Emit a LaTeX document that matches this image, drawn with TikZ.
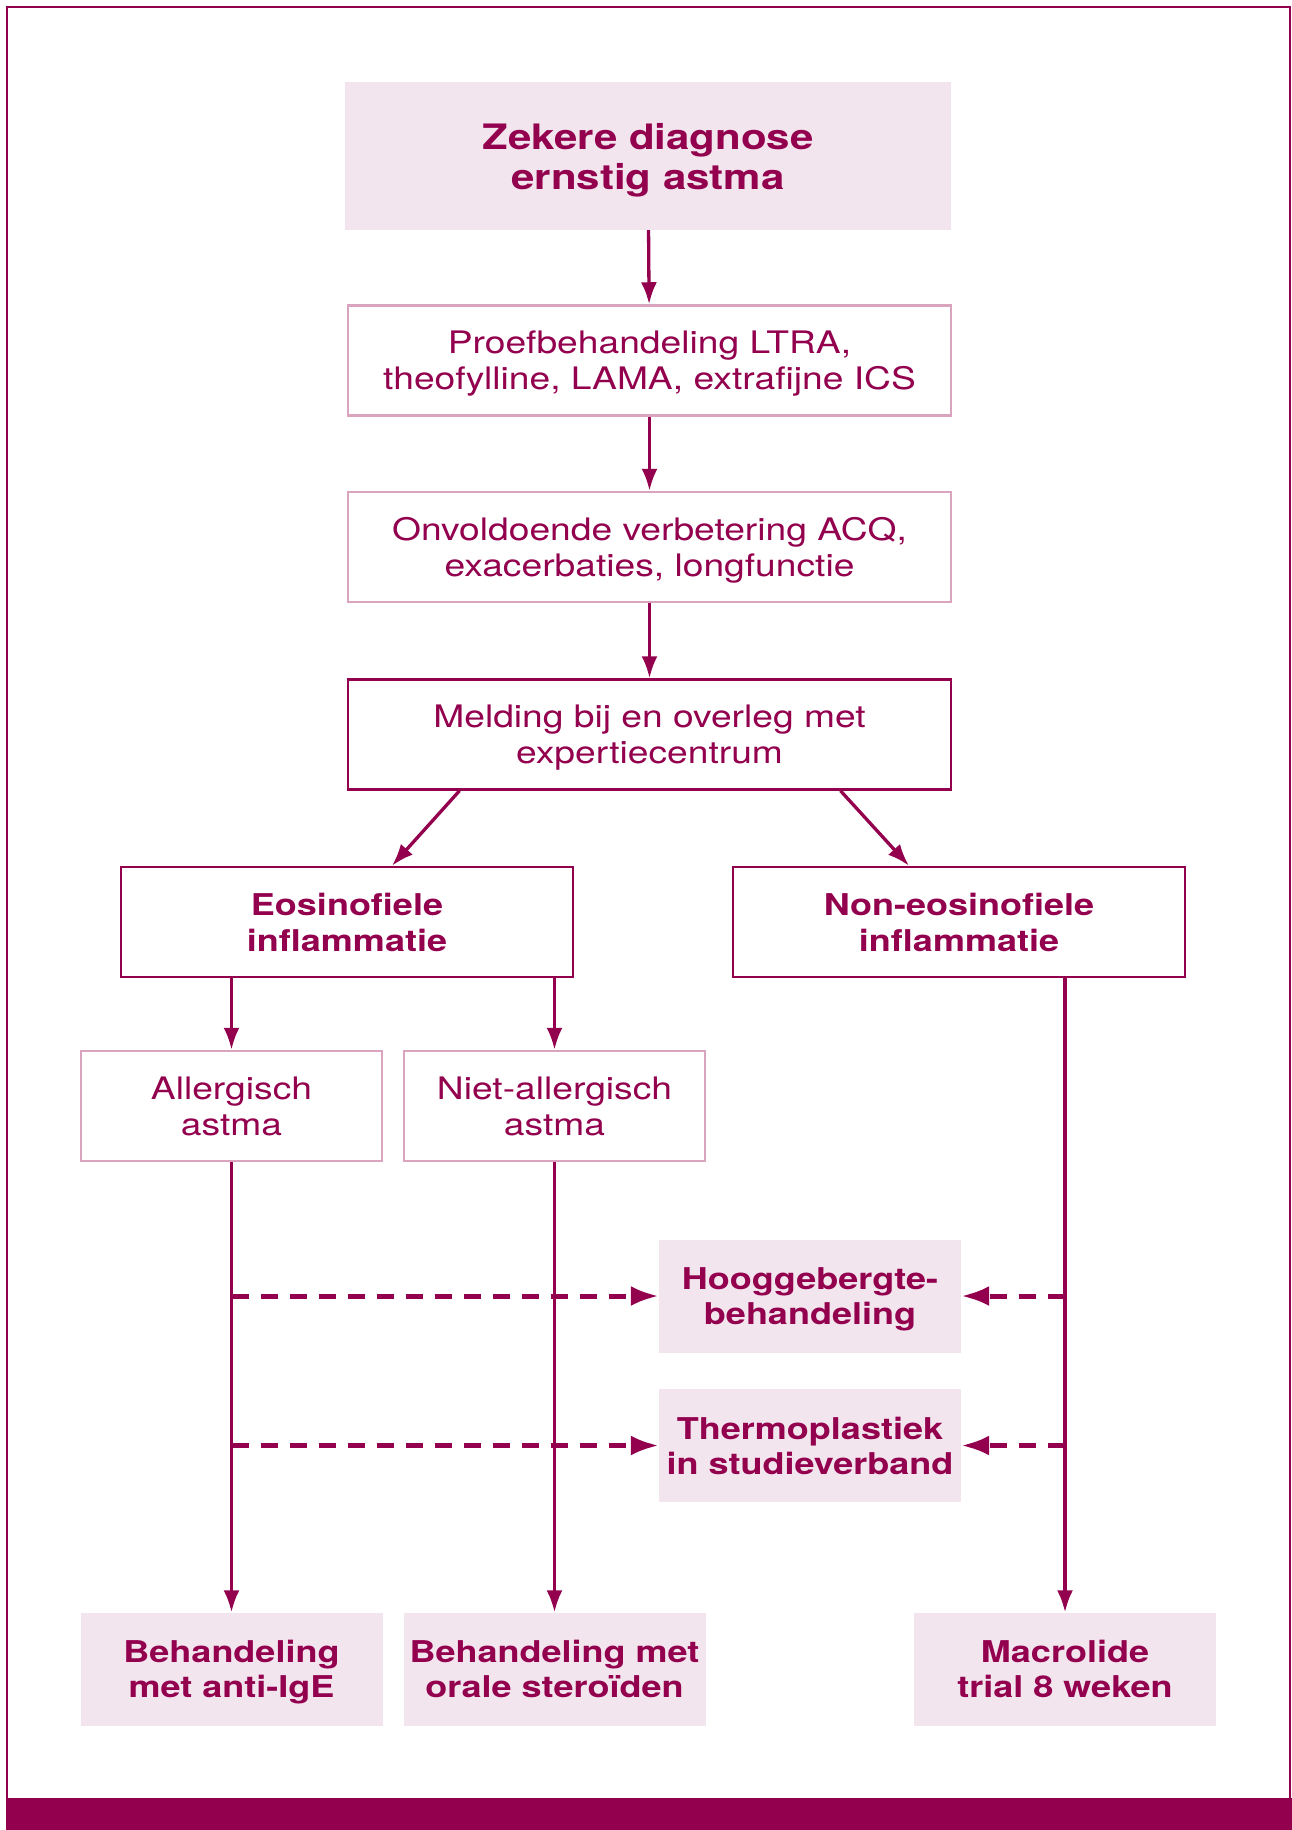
\documentclass[tikz,border=0pt]{standalone}
\usepackage{fontspec}
\setmainfont{TeX Gyre Heros}[FakeStretch=1.2]
\usetikzlibrary{arrows.meta,positioning}

\definecolor{astred}{RGB}{146,0,78}
\definecolor{astpink}{RGB}{242,229,238}
\definecolor{astline}{RGB}{218,163,190}

\tikzset{
  box/.style={rectangle, align=center, text=astred, inner sep=0pt, text depth=0pt,
    font=\fontsize{31}{36}\selectfont},
  darkbox/.style={box, draw=astred, line width=2.5pt, minimum height=110pt},
  lightbox/.style={box, draw=astline, line width=2.5pt, minimum height=110pt},
  pinkbox/.style={box, fill=astpink, minimum height=113pt,
    font=\fontsize{30}{35}\selectfont\bfseries},
  flow/.style={draw=astred, line width=3.3pt, -{Latex[length=22pt,width=16pt]}},
  dashflow/.style={draw=astred, line width=5pt, dash pattern=on 17pt off 12pt,
    -{Latex[length=28pt,width=20pt]}}
}

\begin{document}
\begin{tikzpicture}[x=1pt, y=-1pt]
\useasboundingbox (0,0) rectangle (1292,1830);

% Frame
\draw[astred, line width=2.5pt] (7,1798) -- (7,7) -- (1290,7) -- (1290,1798);
\fill[astred] (6,1798) rectangle (1292,1830);

% Main column
\node[pinkbox, minimum width=606pt, minimum height=148pt,
  font=\fontsize{35}{40}\selectfont\bfseries] (diag) at (648,156)
  {Zekere diagnose\\ernstig astma};
\node[lightbox, minimum width=603pt] (proef) at (649.5,360.5)
  {Proefbehandeling LTRA,\\theofylline, LAMA, extrafijne ICS};
\node[lightbox, minimum width=603pt] (onvol) at (649.5,547)
  {Onvoldoende verbetering ACQ,\\exacerbaties, longfunctie};
\node[darkbox, minimum width=603pt] (meld) at (649.5,734.5)
  {Melding bij en overleg met\\expertiecentrum};

% Inflammation type
\node[darkbox, minimum width=452pt, font=\fontsize{30}{36}\selectfont\bfseries]
  (eos) at (347,922) {Eosinofiele\\inflammatie};
\node[darkbox, minimum width=452pt, font=\fontsize{30}{36}\selectfont\bfseries]
  (noneos) at (959,922) {Non-eosinofiele\\inflammatie};

\node[lightbox, minimum width=301pt] (allerg) at (231.5,1106) {Allergisch\\astma};
\node[lightbox, minimum width=301pt] (niet) at (554.5,1106) {Niet-allergisch\\astma};

% Options
\node[pinkbox, minimum width=302pt] (hoog) at (810,1296) {Hooggebergte-\\behandeling};
\node[pinkbox, minimum width=302pt] (thermo) at (810,1445.5) {Thermoplastiek\\in studieverband};

% Treatments
\node[pinkbox, minimum width=302pt] (antiige) at (231.5,1669) {Behandeling\\met anti-IgE};
\node[pinkbox, minimum width=302pt] (steroid) at (554.5,1669) {Behandeling met\\orale steroïden};
\node[pinkbox, minimum width=302pt] (macro) at (1065,1669) {Macrolide\\trial 8 weken};

% Arrows
\draw[flow] (diag) -- (proef);
\draw[flow] (proef) -- (onvol);
\draw[flow] (onvol) -- (meld);
\draw[flow] ([xshift=-190pt]meld.south) -- ([xshift=45pt]eos.north);
\draw[flow] ([xshift=191pt]meld.south) -- ([xshift=-50pt]noneos.north);
\draw[flow] (eos.south -| allerg.north) -- (allerg.north);
\draw[flow] (eos.south -| niet.north) -- (niet.north);
\draw[flow] (allerg.south) -- (antiige.north);
\draw[flow] (niet.south) -- (steroid.north);
\draw[flow] (noneos.south -| macro.north) -- (macro.north);

% Dashed options
\draw[dashflow] (allerg.south |- hoog.west) -- (hoog.west);
\draw[dashflow] (allerg.south |- thermo.west) -- (thermo.west);
\draw[dashflow] (macro.north |- hoog.east) -- (hoog.east);
\draw[dashflow] (macro.north |- thermo.east) -- (thermo.east);
\end{tikzpicture}
\end{document}
